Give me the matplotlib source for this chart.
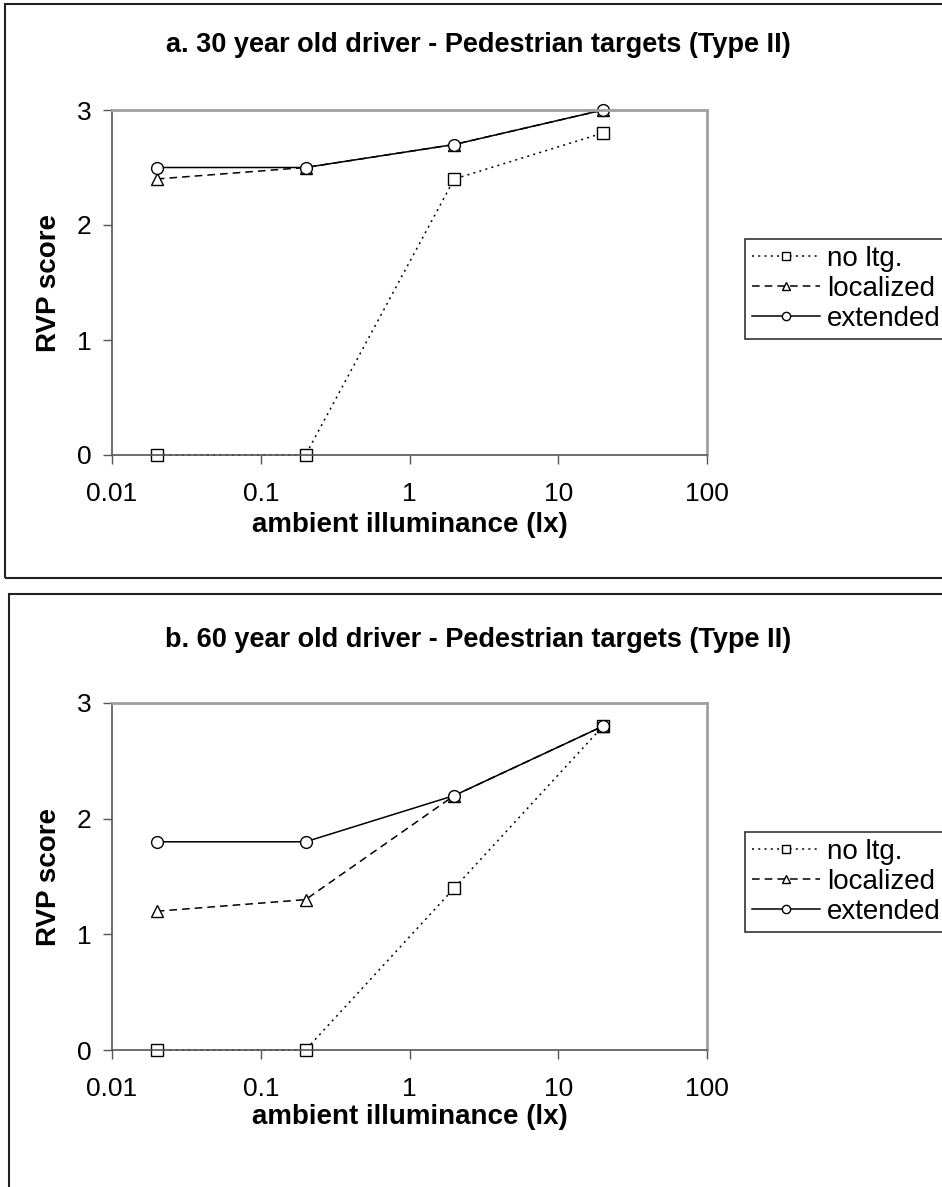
import matplotlib
matplotlib.use('Agg')
import matplotlib.pyplot as plt
from matplotlib.patches import Rectangle
from matplotlib.ticker import FixedLocator, NullLocator

plt.rcParams['font.family'] = ['Liberation Sans', 'DejaVu Sans']

# data
lux = [0.02, 0.2, 2, 20]
series_names = ['no ltg.', 'localized', 'extended']

a_no_ltg = [0, 0, 2.4, 2.8]
a_localized = [2.4, 2.5, 2.7, 3.0]
a_extended = [2.5, 2.5, 2.7, 3.0]

b_no_ltg = [0, 0, 1.4, 2.8]
b_localized = [1.2, 1.3, 2.2, 2.8]
b_extended = [1.8, 1.8, 2.2, 2.8]

titles = ['a. 30 year old driver - Pedestrian targets (Type II)',
          'b. 60 year old driver - Pedestrian targets (Type II)']
x_ticks = [0.01, 0.1, 1, 10, 100]
x_ticklabels = ['0.01', '0.1', '1', '10', '100']
y_ticks = [0, 1, 2, 3]

W, H = 942, 1187
fig = plt.figure(figsize=(W / 100, H / 100), dpi=100)

def fx(px):
    return px / W

def fy(py):
    return 1 - py / H

# outer chart boxes
fig.add_artist(Rectangle((fx(5), fy(578)), fx(960) - fx(5), fy(4) - fy(578),
                         transform=fig.transFigure, fill=False, lw=1.5, ec='#222222'))
fig.add_artist(Rectangle((fx(9), fy(1200)), fx(960) - fx(9), fy(594) - fy(1200),
                         transform=fig.transFigure, fill=False, lw=1.5, ec='#222222'))

styles = [dict(ls=(0, (1.3, 2.8)), marker='s'),
          dict(ls=(0, (5, 3.3)), marker='^'),
          dict(ls='-', marker='o')]

panels = [
    (titles[0], [a_no_ltg, a_localized, a_extended], 110, 455, 45, 525, 289),
    (titles[1], [b_no_ltg, b_localized, b_extended], 703, 1050, 640, 1117, 882),
]

for title, data, top, bot, ty, xly, legy in panels:
    ax = fig.add_axes([fx(112), fy(bot), fx(707) - fx(112), fy(top) - fy(bot)])
    for vals, name, st in zip(data, series_names, styles):
        ax.plot(lux, vals, color='black', lw=1.1, ls=st['ls'], marker=st['marker'],
                ms=8.5, mfc='white', mec='black', mew=1.0, label=name, clip_on=False)
    ax.set_xscale('log')
    ax.set_xlim(0.01, 100)
    ax.set_ylim(0, 3)
    ax.xaxis.set_major_locator(FixedLocator(x_ticks))
    ax.xaxis.set_minor_locator(NullLocator())
    ax.set_xticklabels(x_ticklabels)
    ax.set_yticks(y_ticks)
    ax.tick_params(direction='out', length=6.5, width=1, labelsize=19, pad=8, color='#555555')
    ax.tick_params(axis='x', pad=13)
    for s in ['top', 'right']:
        ax.spines[s].set_color('#a0a0a0')
        ax.spines[s].set_linewidth(2)
    for s in ['left', 'bottom']:
        ax.spines[s].set_color('#555555')
        ax.spines[s].set_linewidth(1.2)
    ax.set_ylabel('RVP score', fontsize=20, fontweight='bold', labelpad=11)
    fig.text(fx(478), fy(ty), title, fontsize=19.5, fontweight='bold', ha='center', va='center')
    fig.text(fx(410), fy(xly), 'ambient illuminance (lx)', fontsize=20, fontweight='bold',
             ha='center', va='center')
    leg = fig.legend(*ax.get_legend_handles_labels(), loc='center left',
                     bbox_to_anchor=(fx(745), fy(legy)), fontsize=20, frameon=True,
                     fancybox=False, edgecolor='#333333', framealpha=1,
                     handlelength=2.45, handletextpad=0.25, labelspacing=0.15,
                     borderpad=0.25, borderaxespad=0, markerscale=0.7)
    leg.get_frame().set_linewidth(1.2)

fig.savefig('out.png', dpi=100)
